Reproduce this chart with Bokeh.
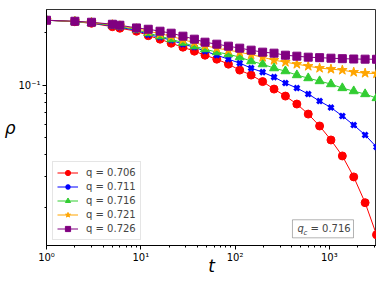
import numpy as np
from bokeh.plotting import figure
from bokeh.models import Range1d, FixedTicker, Label, BoxAnnotation
from bokeh.embed import file_html
from bokeh.resources import INLINE

# ---- data ----
t = [1, 2, 3, 5, 6, 9, 12, 16, 21, 28, 37, 48, 64, 85, 112, 148, 196, 259,
     342, 452, 597, 788, 1040, 1373, 1813, 2395, 3162]

rho_0706 = [0.2341, 0.2295, 0.2250, 0.2150, 0.2108, 0.2027, 0.1911, 0.1826, 0.1732,
            0.1644, 0.1560, 0.1480, 0.1405, 0.1316, 0.1217, 0.1140, 0.1047, 0.0949,
            0.0866, 0.0780, 0.0684, 0.0585, 0.0487, 0.0395, 0.0300, 0.0214, 0.01405]
rho_0711 = [0.2341, 0.2298, 0.2256, 0.2170, 0.2133, 0.2051, 0.1936, 0.1874, 0.1802,
            0.1710, 0.1644, 0.1560, 0.1480, 0.1405, 0.1334, 0.1249, 0.1185, 0.1110,
            0.1027, 0.0962, 0.0889, 0.0811, 0.0745, 0.0667, 0.0592, 0.0520, 0.0444]
rho_0716 = [0.2341, 0.2301, 0.2262, 0.2187, 0.2153, 0.2072, 0.1975, 0.1899, 0.1826,
            0.1744, 0.1666, 0.1602, 0.1540, 0.1500, 0.1442, 0.1369, 0.1316, 0.1249,
            0.1201, 0.1140, 0.1096, 0.1054, 0.1013, 0.0962, 0.0924, 0.0889, 0.0844]
rho_0721 = [0.2341, 0.2304, 0.2271, 0.2210, 0.2178, 0.2094, 0.2027, 0.1962, 0.1899,
            0.1814, 0.1744, 0.1677, 0.1623, 0.1581, 0.1540, 0.1490, 0.1442, 0.1387,
            0.1351, 0.1316, 0.1282, 0.1249, 0.1233, 0.1217, 0.1185, 0.1170, 0.1162]
rho_0726 = [0.2341, 0.2310, 0.2280, 0.2221, 0.2192, 0.2116, 0.2080, 0.2027, 0.1975,
            0.1899, 0.1826, 0.1755, 0.1710, 0.1666, 0.1623, 0.1581, 0.1540, 0.1520,
            0.1480, 0.1461, 0.1442, 0.1433, 0.1423, 0.1414, 0.1408, 0.1405, 0.1403]

labels = ["q = 0.706", "q = 0.711", "q = 0.716", "q = 0.721", "q = 0.726"]
series = [rho_0706, rho_0711, rho_0716, rho_0721, rho_0726]
colors = ["red", "blue", "limegreen", "orange", "purple"]
markers = ["circle", "x", "triangle", "star", "square"]
msizes = [8, 7, 9, 10, 8]

x_major = [1, 10, 100, 1000]
x_major_labels = ["10\u2070", "10\u00b9", "10\u00b2", "10\u00b3"]
y_major = [0.1]
y_major_labels = ["10\u207b\u00b9"]
qc_text = "= 0.716"
x_title = "t"
y_title = "\u03c1"

# ---- ranges ----
allv = np.concatenate([np.array(s) for s in series])
lo, hi = np.log10(allv.min()), np.log10(allv.max())
span = hi - lo
y_lo, y_hi = 10 ** (lo - 0.05 * span), 10 ** (hi + 0.05 * span)

FONT = "DejaVu Sans"

p = figure(width=376, height=278, x_axis_type="log", y_axis_type="log",
           x_range=Range1d(t[0], t[-1]), y_range=Range1d(y_lo, y_hi),
           output_backend="svg", toolbar_location=None,
           min_border_left=46, min_border_right=0, min_border_top=9,
           min_border_bottom=32)
p.xgrid.visible = False
p.ygrid.visible = False
p.outline_line_color = "#333333"
p.outline_line_width = 1

# ticks
x_minor = []
for d in [1, 10, 100, 1000]:
    for k in range(2, 10):
        x_minor.append(d * k)
y_minor = [0.02, 0.03, 0.04, 0.05, 0.06, 0.07, 0.08, 0.09, 0.2]
p.xaxis.ticker = FixedTicker(ticks=x_major, minor_ticks=x_minor)
p.yaxis.ticker = FixedTicker(ticks=y_major, minor_ticks=y_minor)
p.xaxis.major_label_overrides = {float(v): s for v, s in zip(x_major, x_major_labels)}
p.yaxis.major_label_overrides = {float(v): s for v, s in zip(y_major, y_major_labels)}

for ax in (p.xaxis, p.yaxis):
    ax.major_tick_in = 0
    ax.major_tick_out = 4
    ax.minor_tick_in = 0
    ax.minor_tick_out = 2
    ax.major_label_text_font = FONT
    ax.major_label_text_font_size = "10px"
    ax.major_label_text_color = "black"
    ax.axis_line_color = "black"
    ax.major_tick_line_color = "black"
    ax.minor_tick_line_color = "black"
    ax.major_label_standoff = 2
    ax.axis_label_text_font = FONT
    ax.axis_label_text_font_style = "italic"
    ax.axis_label_text_font_size = "17px"
    ax.axis_label_text_color = "black"

p.xaxis.axis_label = x_title
p.xaxis.axis_label_standoff = -10
p.yaxis.axis_label = y_title
p.yaxis.axis_label_orientation = "horizontal"
p.yaxis.axis_label_standoff = 0

for s, lab, c, m, ms in zip(series, labels, colors, markers, msizes):
    p.line(t, s, color=c, line_width=1, legend_label=lab)
    if m == "x":
        p.scatter(t, s, marker=m, size=ms, line_color=c, line_width=3,
                  legend_label=lab)
    else:
        p.scatter(t, s, marker=m, size=ms, fill_color=c, line_color=c,
                  legend_label=lab)

lg = p.legend[0]
lg.location = (6, 5)
lg.margin = 0
lg.padding = 4
lg.spacing = 1
lg.glyph_height = 13
lg.label_height = 13
lg.glyph_width = 21
lg.label_standoff = 8
lg.label_text_font = FONT
lg.label_text_font_size = "10px"
lg.border_line_color = "#cccccc"
lg.border_line_width = 1
lg.background_fill_alpha = 0.8

# q_c box
box = BoxAnnotation(left=406, right=1803, bottom=0.0135, top=0.0171,
                    fill_color="white", fill_alpha=1.0, line_color="black",
                    line_width=1)
p.add_layout(box)
x0, y0 = 459, 0.0152
p.add_layout(Label(x=x0, y=y0, text="q", text_font=FONT, text_font_style="italic",
                   text_font_size="10px", text_baseline="middle"))
p.add_layout(Label(x=x0, y=y0, x_offset=6, y_offset=-4, text="c", text_font=FONT,
                   text_font_style="italic", text_font_size="7px",
                   text_baseline="middle"))
p.add_layout(Label(x=x0, y=y0, x_offset=13, text=qc_text, text_font=FONT,
                   text_font_size="10px", text_baseline="middle"))

open("out.html", "w").write(file_html(p, INLINE))
